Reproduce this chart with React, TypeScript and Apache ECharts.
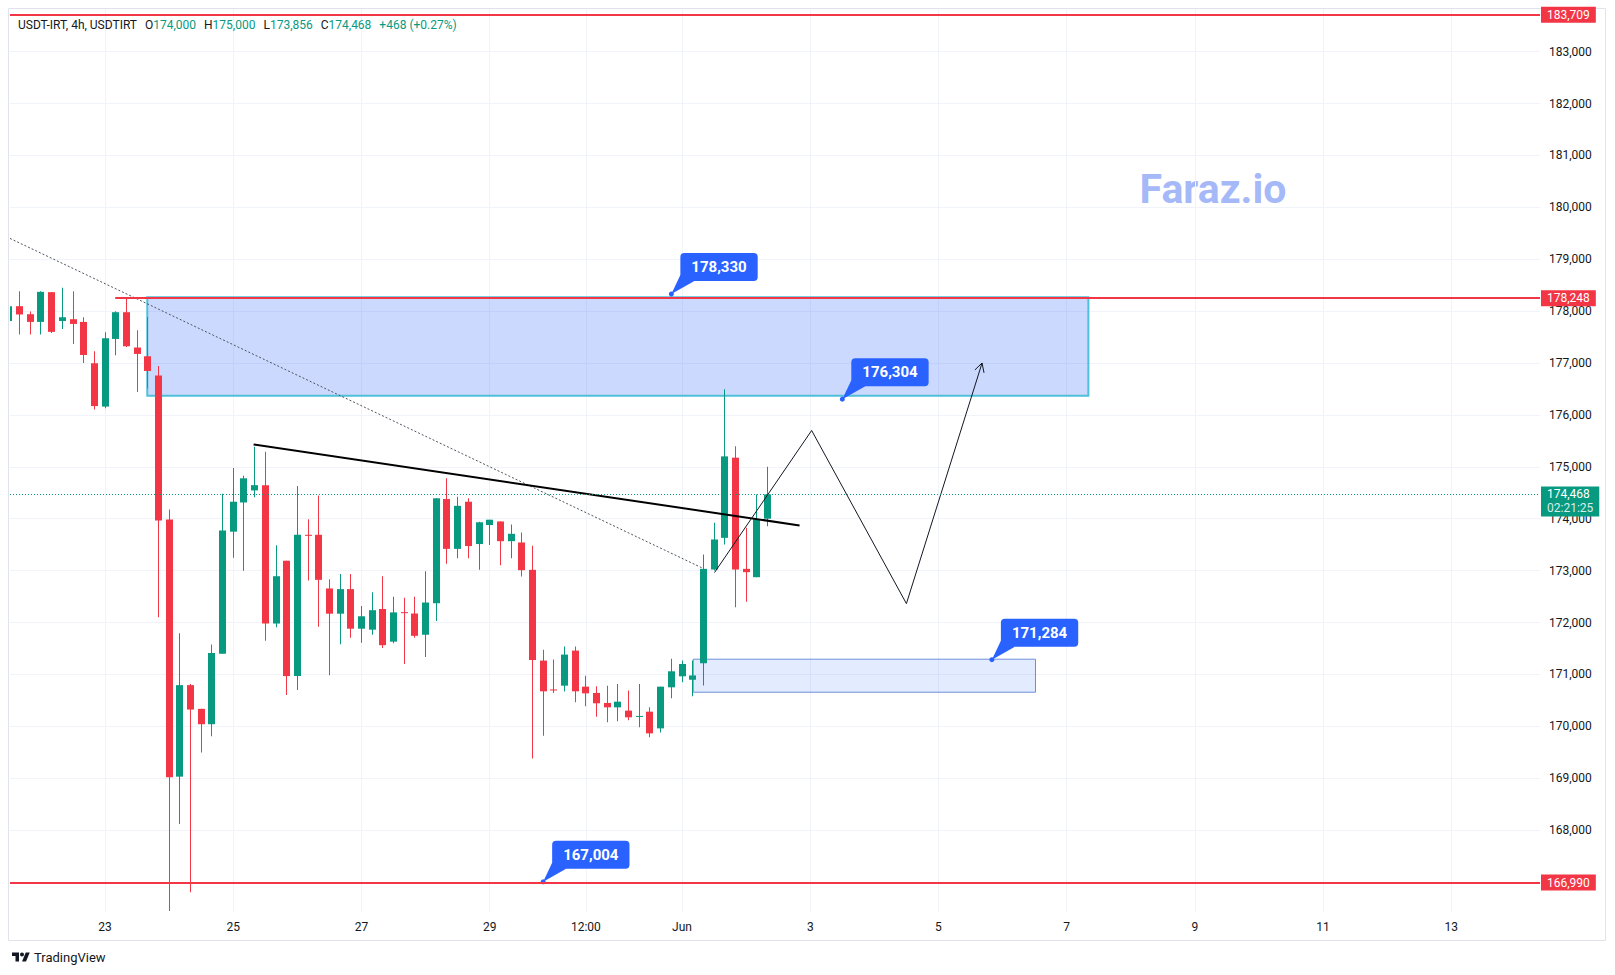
import React, { useEffect, useRef } from 'react';
import * as echarts from 'echarts';

// Slot index: 0 = 23 May 00:00, each slot = one 4h candle
const FIRST_SLOT = -9;
const OPENS = [
  177810, 178095, 177940, 177792, 178365, 177810, 177844, 177792, 176995,
  176160, 177464, 177979, 177298, 177130, 176760, 173985, 169030, 170793, 170336, 170040, 171398,
  173750, 174313, 174545, 174646, 171980, 173190, 170967, 173690, 173690, 172656, 172170, 172643,
  171881, 171862, 172260, 171631, 172200, 172173, 171764, 172371, 174379, 173419, 174327, 173512,
  173878, 173947, 173567, 173542, 173015, 171266, 170710, 170783, 171459, 170764, 170643, 170450,
  170365, 170302, 170185, 170282, 169960, 170751, 170963, 170897, 171215, 173021, 173631, 175176,
  173034, 172873, 174000,
];
const HIGHS = [
  178100, 178384, 177992, 178384, 178370, 178448, 178384, 177882, 177226,
  177593, 177998, 178240, 177632, 177888, 176943, 174179, 171794, 170814, 170336, 171578, 174480,
  174977, 174830, 175388, 175288, 173490, 173190, 174632, 173990, 174447, 172835, 172935, 172935,
  172318, 172582, 172890, 172494, 172475, 172494, 172986, 174393, 174778, 174425, 174393, 173943,
  173981, 173947, 173888, 173735, 173478, 171474, 171287, 171536, 171536, 170976, 170770, 170783,
  170816, 170688, 170816, 170365, 170764, 171300, 171266, 171266, 173310, 173922, 176493, 175394,
  173826, 174468, 175000,
];
const LOWS = [
  177800, 177549, 177549, 177549, 177580, 177657, 177367, 177000, 176102,
  176127, 177149, 177310, 176441, 176507, 172100, 166443, 168116, 166803, 169495, 169806, 171398,
  173247, 172998, 174414, 171650, 171908, 170602, 170700, 172809, 171916, 170986, 171582, 171708,
  171608, 171764, 171509, 171599, 171202, 171708, 171335, 172028, 173133, 173239, 173239, 173017,
  173493, 173104, 173239, 172886, 169381, 169820, 170643, 170671, 170465, 170385, 170186, 170077,
  170096, 170115, 169980, 169787, 169883, 170540, 170849, 170577, 170784, 173002, 173504, 172294,
  172398, 172873, 173856,
];
const CLOSES = [
  178095, 177935, 177792, 178371, 177600, 177882, 177753, 177155, 176171,
  177477, 177979, 177323, 177175, 176847, 173967, 169019, 170793, 170323, 170040, 171412, 173773,
  174327, 174778, 174646, 171980, 172892, 170967, 173690, 173670, 172822, 172170, 172643, 171881,
  172120, 172237, 171563, 172195, 172180, 171743, 172385, 174393, 173419, 174248, 173473, 173931,
  173981, 173567, 173709, 173008, 171277, 170674, 170690, 171382, 170674, 170635, 170443, 170365,
  170475, 170173, 170200, 169864, 170764, 171060, 171200, 170980, 173034, 173600, 175201, 173021,
  172970, 173990, 174468,
];

const PRICE_TICKS = [167000, 168000, 169000, 170000, 171000, 172000, 173000, 174000, 175000,
  176000, 177000, 178000, 179000, 180000, 181000, 182000, 183000];
const TIME_TICK_SLOTS = [0, 12, 24, 36, 45, 54, 66, 78, 90, 102, 114, 126];
const TIME_TICK_LABELS = ['23', '25', '27', '29', '12:00', 'Jun', '3', '5', '7', '9', '11', '13'];

const X_MIN = -8.9;
const X_MAX = 134.3;
const Y_MIN = 166422;
const Y_MAX = 183821;

const LEVEL_PRICES = [183709, 178248, 166990];
const LEVEL_START_SLOTS = [X_MIN, 0.95, X_MIN];
const LAST_PRICE = 174468;
const COUNTDOWN = '02:21:25';

const ZONE_SLOTS = [3.95, 92.03];
const ZONE_PRICES = [178266, 176370];
const DEMAND_SLOTS = [55.05, 87.08];
const DEMAND_PRICES = [171293, 170657];

const CALLOUT_SLOTS = [53, 69, 41, 83];
const CALLOUT_PRICES = [178330, 176304, 167004, 171284];

const TREND_SLOTS = [13.9, 65];
const TREND_PRICES = [175430, 173870];
const DOTTED_SLOTS = [X_MIN, 56];
const DOTTED_PRICES = [179400, 173040];
const PATH_SLOTS = [57.04, 66.13, 75.0, 82.08];
const PATH_PRICES = [172963, 175700, 172364, 177000];

const UP = '#089981';
const DOWN = '#F23645';
const BLUE = '#2962FF';
const TEXT = '#131722';
const GRIDC = '#F0F3FA';
const FONT = 'Roboto';

const fmt = (v: number) => Math.round(v).toLocaleString('en-US');

echarts.graphic.registerShape(
  'tvlogo',
  echarts.graphic.extendPath('M14 22H7V11H0V4h14v18zM28 22h-8l7.5-18h8L28 22zM24 8a4 4 0 1 1-8 0a4 4 0 1 1 8 0z', {})
);

export default function App() {
  const ref = useRef<HTMLDivElement>(null);
  useEffect(() => {
    if (!ref.current) return;
    const chart = echarts.init(ref.current, undefined, { renderer: 'svg' });
    const last = OPENS.length - 1;
    const o = OPENS[last], h = HIGHS[last], l = LOWS[last], c = CLOSES[last];
    const chg = c - o;
    const pct = ((chg / o) * 100).toFixed(2);

    const candleData = OPENS.map((op, i) => [FIRST_SLOT + i, op, CLOSES[i], LOWS[i], HIGHS[i]]);

    const option: any = {
      animation: false,
      backgroundColor: '#ffffff',
      grid: { left: 10, top: 9, right: 75, bottom: 63 },
      xAxis: { type: 'value', min: X_MIN, max: X_MAX, show: false },
      yAxis: { type: 'value', min: Y_MIN, max: Y_MAX, show: false, position: 'right' },
      graphic: [
        { type: 'rect', shape: { x: 8.5, y: 8.5, width: 1597, height: 932 }, style: { fill: 'none', stroke: '#E0E3EB', lineWidth: 1 }, silent: true, z: 0 },
        {
          type: 'text', x: 18, y: 25, z: 100,
          style: {
            text: `{k|USDT-IRT, 4h, USDTIRT}{g| }{k|O}{v|${fmt(o)}}{g| }{k|H}{v|${fmt(h)}}{g| }{k|L}{v|${fmt(l)}}{g| }{k|C}{v|${fmt(c)}}{g| }{v|${chg >= 0 ? '+' : ''}${fmt(chg)} (${chg >= 0 ? '+' : ''}${pct}%)}`,
            verticalAlign: 'middle',
            rich: {
              k: { fill: TEXT, fontSize: 12, fontFamily: FONT },
              v: { fill: UP, fontSize: 12, fontFamily: FONT },
              g: { width: 8, fontSize: 12 },
            },
          },
        },
        {
          type: 'text', x: 1213, y: 189, z: 1,
          style: { text: 'Faraz.io', fill: '#A5B9F8', fontSize: 41, fontWeight: 'bold', fontFamily: FONT, align: 'center', verticalAlign: 'middle' },
        },
        { type: 'tvlogo', x: 12, y: 950.5, scaleX: 0.5, scaleY: 0.5, style: { fill: TEXT } },
        {
          type: 'text', x: 34, y: 957,
          style: { text: 'TradingView', fill: TEXT, fontSize: 13, fontFamily: FONT, verticalAlign: 'middle' },
        },
      ],
      series: [
        // grid lines + axis labels
        {
          type: 'line', data: [], z: 1, silent: true,
          markLine: {
            silent: true, symbol: 'none', z: 1, animation: false,
            lineStyle: { color: GRIDC, width: 1, type: 'solid' },
            label: { position: 'end', distance: 9, formatter: '{b}', color: TEXT, fontSize: 12, fontFamily: FONT },
            emphasis: { disabled: true },
            data: [
              ...PRICE_TICKS.map((v) => ({ yAxis: v, name: fmt(v) })),
              ...TIME_TICK_SLOTS.map((k, i) => [
                { coord: [k, Y_MAX], name: TIME_TICK_LABELS[i] },
                { coord: [k, Y_MIN] },
              ]),
            ],
          },
        },
        // zones
        {
          type: 'line', data: [], z: 2, silent: true,
          markArea: {
            silent: true, z: 2,
            emphasis: { disabled: true },
            data: [
              [
                { coord: [ZONE_SLOTS[0], ZONE_PRICES[0]], itemStyle: { color: 'rgba(41,98,255,0.24)', borderColor: '#4EC0DA', borderWidth: 2 } },
                { coord: [ZONE_SLOTS[1], ZONE_PRICES[1]] },
              ],
              [
                { coord: [DEMAND_SLOTS[0], DEMAND_PRICES[0]], itemStyle: { color: 'rgba(41,98,255,0.13)', borderColor: '#6E8FD8', borderWidth: 1 } },
                { coord: [DEMAND_SLOTS[1], DEMAND_PRICES[1]] },
              ],
            ],
          },
        },
        // candles
        {
          type: 'custom', z: 3, clip: true, silent: true,
          data: candleData,
          encode: { x: 0, y: [1, 2, 3, 4] },
          renderItem: (params: any, api: any) => {
            const k = api.value(0), op = api.value(1), cl = api.value(2), lo = api.value(3), hi = api.value(4);
            const color = cl >= op ? UP : DOWN;
            const pO = api.coord([k, op]);
            const pC = api.coord([k, cl]);
            const pH = api.coord([k, hi]);
            const pL = api.coord([k, lo]);
            const bw = Math.round(api.size([1, 0])[0] * 0.66);
            const left = Math.round(pO[0] - bw / 2);
            const wx = left + Math.floor(bw / 2);
            const top = Math.min(pO[1], pC[1]);
            const bh = Math.max(1, Math.abs(pO[1] - pC[1]));
            return {
              type: 'group',
              children: [
                { type: 'rect', shape: { x: wx, y: pH[1], width: 1, height: Math.max(1, pL[1] - pH[1]) }, style: { fill: color } },
                { type: 'rect', shape: { x: left, y: top, width: bw, height: bh }, style: { fill: color } },
              ],
            };
          },
        },
        // dotted diagonal
        {
          type: 'line', z: 4, silent: true, symbol: 'none',
          data: DOTTED_SLOTS.map((k, i) => [k, DOTTED_PRICES[i]]),
          lineStyle: { color: '#50535E', width: 1, type: [2, 2] },
        },
        // black trendline
        {
          type: 'line', z: 4, silent: true, symbol: 'none',
          data: TREND_SLOTS.map((k, i) => [k, TREND_PRICES[i]]),
          lineStyle: { color: '#000000', width: 2 },
        },
        // projection path
        {
          type: 'line', z: 4, silent: true, symbol: 'none',
          data: PATH_SLOTS.map((k, i) => [k, PATH_PRICES[i]]),
          lineStyle: { color: TEXT, width: 1 },
        },
        // arrow head
        {
          type: 'custom', z: 4, silent: true, clip: false,
          data: [[PATH_SLOTS[2], PATH_PRICES[2], PATH_SLOTS[3], PATH_PRICES[3]]],
          encode: { x: [0, 2], y: [1, 3] },
          renderItem: (params: any, api: any) => {
            const a = api.coord([api.value(0), api.value(1)]);
            const b = api.coord([api.value(2), api.value(3)]);
            const ang = Math.atan2(b[1] - a[1], b[0] - a[0]);
            const len = 10, sp = 0.5;
            const p1 = [b[0] - len * Math.cos(ang - sp), b[1] - len * Math.sin(ang - sp)];
            const p2 = [b[0] - len * Math.cos(ang + sp), b[1] - len * Math.sin(ang + sp)];
            return { type: 'polyline', shape: { points: [p1, b, p2] }, style: { stroke: TEXT, lineWidth: 1, fill: 'none' } };
          },
        },
        // horizontal levels + current price
        {
          type: 'line', data: [], z: 5, silent: true,
          markLine: {
            silent: true, symbol: 'none', z: 7, animation: false,
            emphasis: { disabled: true },
            data: [
              ...LEVEL_PRICES.map((v, i) => [
                {
                  coord: [LEVEL_START_SLOTS[i], v], name: fmt(v),
                  lineStyle: { color: DOWN, width: 2, type: 'solid' },
                  label: {
                    show: true, position: 'end', distance: 1, formatter: '{b}', color: '#ffffff',
                    backgroundColor: DOWN, padding: [2, 6, 2, 6], fontSize: 12, fontFamily: FONT, lineHeight: 12,
                  },
                },
                { coord: [X_MAX, v] },
              ]),
              {
                yAxis: LAST_PRICE, name: fmt(LAST_PRICE),
                lineStyle: { color: UP, width: 1, type: [1, 2] },
                label: {
                  show: true, position: 'end', distance: 1, offset: [0, 7],
                  formatter: () => `{a|${fmt(LAST_PRICE)}}\n{b|${COUNTDOWN}}`,
                  backgroundColor: UP, padding: [1, 6, 1, 6],
                  rich: {
                    a: { color: '#ffffff', fontSize: 12, fontFamily: FONT, lineHeight: 14 },
                    b: { color: 'rgba(255,255,255,0.85)', fontSize: 12, fontFamily: FONT, lineHeight: 14 },
                  },
                },
              },
            ],
          },
        },
        // callouts
        {
          type: 'custom', z: 6, silent: true, clip: false,
          data: CALLOUT_SLOTS.map((k, i) => [k, CALLOUT_PRICES[i]]),
          encode: { x: 0, y: 1 },
          renderItem: (params: any, api: any) => {
            const v = api.value(1);
            const tip = api.coord([api.value(0), v]);
            const bx = tip[0] + 9;
            const by = tip[1] - 13;
            return {
              type: 'group',
              children: [
                { type: 'polygon', shape: { points: [[tip[0], tip[1]], [bx, by - 6], [bx + 14, by]] }, style: { fill: BLUE } },
                { type: 'circle', shape: { cx: tip[0], cy: tip[1], r: 2.5 }, style: { fill: BLUE } },
                {
                  type: 'text', x: bx, y: by,
                  style: {
                    text: fmt(v), fill: '#ffffff', fontSize: 15, fontWeight: 'bold', fontFamily: FONT,
                    backgroundColor: BLUE, borderRadius: 4, padding: [5, 11, 5, 11], lineHeight: 18,
                    align: 'left', verticalAlign: 'bottom',
                  },
                },
              ],
            };
          },
        },
      ],
    };
    chart.setOption(option);
    return () => chart.dispose();
  }, []);
  return (
    <div
      ref={ref}
      style={{ position: 'absolute', left: 0, top: 0, width: 1615, height: 975, background: '#ffffff' }}
    />
  );
}
